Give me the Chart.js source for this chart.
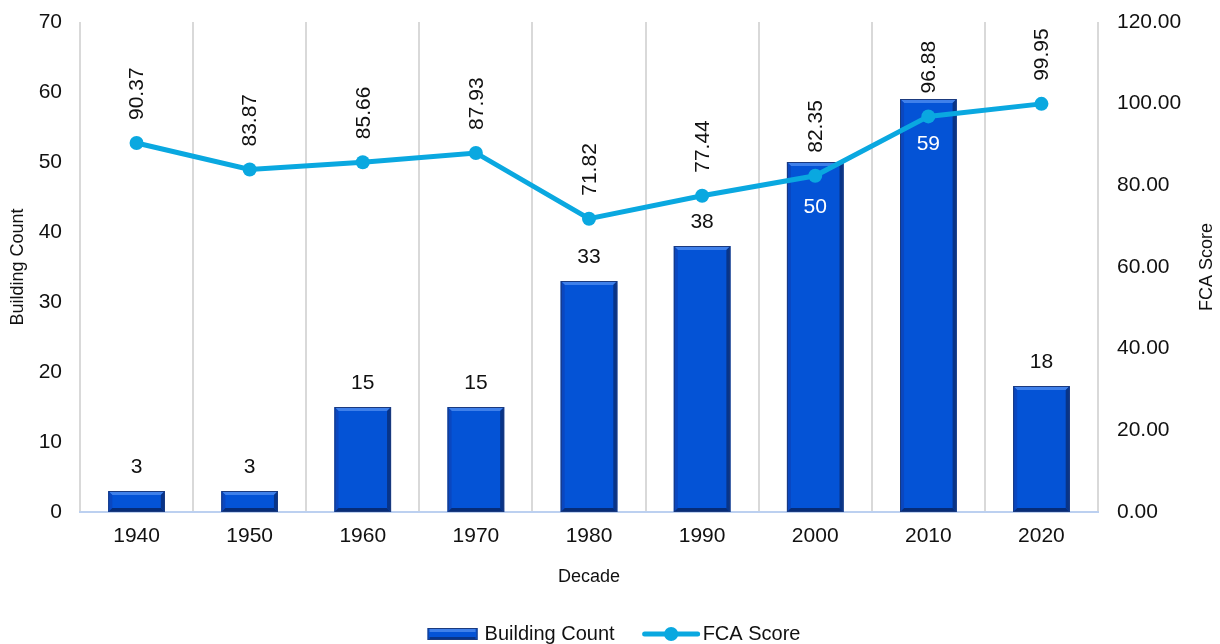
<!DOCTYPE html>
<html>
<head>
<meta charset="utf-8">
<title>Building Count and FCA Score by Decade</title>
<script src="https://cdn.jsdelivr.net/npm/chart.js@4.4.1/dist/chart.umd.min.js"></script>
<style>
  html, body { margin: 0; padding: 0; background: #fff; }
  canvas { display: block; }
</style>
</head>
<body>
<canvas id="decadeChart" width="1220" height="644"></canvas>
<script>
const decades = ['1940', '1950', '1960', '1970', '1980', '1990', '2000', '2010', '2020'];
const buildingCount = [3, 3, 15, 15, 33, 38, 50, 59, 18];
const fcaScore = [90.37, 83.87, 85.66, 87.93, 71.82, 77.44, 82.35, 96.88, 99.95];
const countTicks = [0, 10, 20, 30, 40, 50, 60, 70];
const scoreTicks = [0, 20, 40, 60, 80, 100, 120];

const FONT = "'Liberation Sans', Arial, sans-serif";
const BAR_BLUE = '#0453d6';
const LINE_BLUE = '#0aa8e0';
const TEXT = '#111';

Chart.defaults.font.family = FONT;
Chart.defaults.color = TEXT;

// bevelled edges on each column
const bevelBars = {
  id: 'bevelBars',
  afterDatasetDraw(chart, args) {
    if (args.meta.type !== 'bar') return;
    const ctx = chart.ctx;
    const b = 4;
    args.meta.data.forEach(bar => {
      const l = bar.x - bar.width / 2, r = bar.x + bar.width / 2;
      const t = bar.y, btm = bar.base;
      ctx.save();
      const quad = (pts, fill) => {
        ctx.beginPath();
        ctx.moveTo(pts[0][0], pts[0][1]);
        for (let i = 1; i < pts.length; i++) ctx.lineTo(pts[i][0], pts[i][1]);
        ctx.closePath();
        ctx.fillStyle = fill;
        ctx.fill();
      };
      quad([[l, t], [r, t], [r - b, t + b], [l + b, t + b]], '#3f80ea');
      quad([[l, t], [l + b, t + b], [l + b, btm - b], [l, btm]], '#0a47c0');
      quad([[r, t], [r - b, t + b], [r - b, btm - b], [r, btm]], '#083488');
      quad([[l, btm], [l + b, btm - b], [r - b, btm - b], [r, btm]], '#062c78');
      ctx.strokeStyle = '#1b3a7e';
      ctx.lineWidth = 1;
      ctx.strokeRect(l + 0.5, t + 0.5, bar.width - 1, btm - t - 1);
      ctx.restore();
    });
  }
};

// value labels for both series
const valueLabels = {
  id: 'valueLabels',
  afterDatasetsDraw(chart) {
    const ctx = chart.ctx;
    const bars = chart.getDatasetMeta(0).data;
    const points = chart.getDatasetMeta(1).data;
    ctx.save();
    ctx.font = '21px ' + FONT;
    ctx.textAlign = 'center';
    ctx.textBaseline = 'middle';
    bars.forEach((bar, i) => {
      const inside = bar.y < points[i].y;
      ctx.fillStyle = inside ? '#fff' : TEXT;
      ctx.fillText(String(buildingCount[i]), bar.x, inside ? bar.y + 45 : bar.y - 24);
    });
    ctx.fillStyle = TEXT;
    ctx.textAlign = 'left';
    points.forEach((pt, i) => {
      ctx.save();
      ctx.translate(pt.x, pt.y - 23);
      ctx.rotate(-Math.PI / 2);
      ctx.fillText(fcaScore[i].toFixed(2), 0, 1);
      ctx.restore();
    });
    ctx.restore();
  }
};

// right axis title (reads bottom to top) and the legend row
const extras = {
  id: 'extras',
  afterDraw(chart) {
    const ctx = chart.ctx;
    const area = chart.chartArea;
    ctx.save();
    ctx.fillStyle = TEXT;
    ctx.font = '18px ' + FONT;
    ctx.textAlign = 'center';
    ctx.textBaseline = 'middle';
    ctx.save();
    ctx.translate(1207, (area.top + area.bottom) / 2);
    ctx.rotate(-Math.PI / 2);
    ctx.fillText('FCA Score', 0, 0);
    ctx.restore();

    ctx.font = '20px ' + FONT;
    ctx.textAlign = 'left';
    const labels = chart.data.datasets.map(d => d.label);
    const sw = [50, 57], gap = 7, between = 28;
    const widths = labels.map((t, i) => sw[i] + gap + ctx.measureText(t).width);
    let x = chart.width / 2 - (widths[0] + widths[1] + between) / 2 + 6;
    const y = 634;
    // column swatch
    const sl = x, sr = x + sw[0], st = y - 6, sb = y + 6;
    ctx.fillStyle = BAR_BLUE;
    ctx.fillRect(sl, st, sw[0], 12);
    ctx.fillStyle = '#3f80ea';
    ctx.fillRect(sl + 2, st + 1, sw[0] - 4, 3);
    ctx.fillStyle = '#083488';
    ctx.fillRect(sl + 2, sb - 3, sw[0] - 4, 2);
    ctx.strokeStyle = '#1b3a7e';
    ctx.lineWidth = 1;
    ctx.strokeRect(sl + 0.5, st + 0.5, sw[0] - 1, 11);
    ctx.fillStyle = TEXT;
    ctx.fillText(labels[0], sr + gap, y);
    x += widths[0] + between;
    // line swatch
    ctx.strokeStyle = LINE_BLUE;
    ctx.lineWidth = 5;
    ctx.lineCap = 'round';
    ctx.beginPath();
    ctx.moveTo(x + 2, y);
    ctx.lineTo(x + sw[1] - 2, y);
    ctx.stroke();
    ctx.fillStyle = LINE_BLUE;
    ctx.beginPath();
    ctx.arc(x + sw[1] / 2, y, 7, 0, Math.PI * 2);
    ctx.fill();
    ctx.fillStyle = TEXT;
    ctx.fillText(labels[1], x + sw[1] + gap - 4, y);
    ctx.restore();
  }
};

// fixed axis widths, no extra room for overhanging end labels
const fixWidth = w => s => {
  s.width = w;
  s.paddingTop = 0;
  s.paddingBottom = 0;
};

new Chart(document.getElementById('decadeChart'), {
  data: {
    labels: decades,
    datasets: [
      {
        type: 'bar',
        label: 'Building Count',
        data: buildingCount,
        backgroundColor: BAR_BLUE,
        barPercentage: 0.5,
        categoryPercentage: 1,
        yAxisID: 'yCount',
        order: 2
      },
      {
        type: 'line',
        label: 'FCA Score',
        data: fcaScore,
        borderColor: LINE_BLUE,
        backgroundColor: LINE_BLUE,
        borderWidth: 5,
        pointRadius: 7,
        pointBorderWidth: 0,
        tension: 0,
        yAxisID: 'yScore',
        order: 1
      }
    ]
  },
  options: {
    responsive: false,
    animation: false,
    layout: { padding: { top: 22, bottom: 52, left: 0, right: 0 } },
    plugins: {
      legend: { display: false },
      tooltip: { enabled: false }
    },
    scales: {
      x: {
        offset: true,
        afterFit: s => { s.height = 80; },
        grid: { offset: true, color: '#d9d9d9', lineWidth: 2, drawTicks: false },
        border: { color: '#bcd0f0', width: 2 },
        ticks: { padding: 12, font: { size: 21 }, color: TEXT },
        title: { display: true, text: 'Decade', font: { size: 18 }, color: TEXT, padding: { top: 17, bottom: 4 } }
      },
      yCount: {
        position: 'left',
        min: countTicks[0],
        max: countTicks[countTicks.length - 1],
        afterBuildTicks: s => { s.ticks = countTicks.map(v => ({ value: v })); },
        afterFit: fixWidth(80),
        grid: { display: false, drawTicks: false },
        border: { display: false },
        ticks: { padding: 18, font: { size: 21 }, color: TEXT },
        title: { display: true, text: 'Building Count', font: { size: 18 }, color: TEXT, padding: { top: 7, bottom: 4 } }
      },
      yScore: {
        position: 'right',
        min: scoreTicks[0],
        max: scoreTicks[scoreTicks.length - 1],
        afterBuildTicks: s => { s.ticks = scoreTicks.map(v => ({ value: v })); },
        afterFit: fixWidth(122),
        grid: { display: false, drawTicks: false },
        border: { display: false },
        ticks: { padding: 19, font: { size: 21 }, color: TEXT, callback: v => Number(v).toFixed(2) }
      }
    }
  },
  plugins: [bevelBars, valueLabels, extras]
});
</script>
</body>
</html>
